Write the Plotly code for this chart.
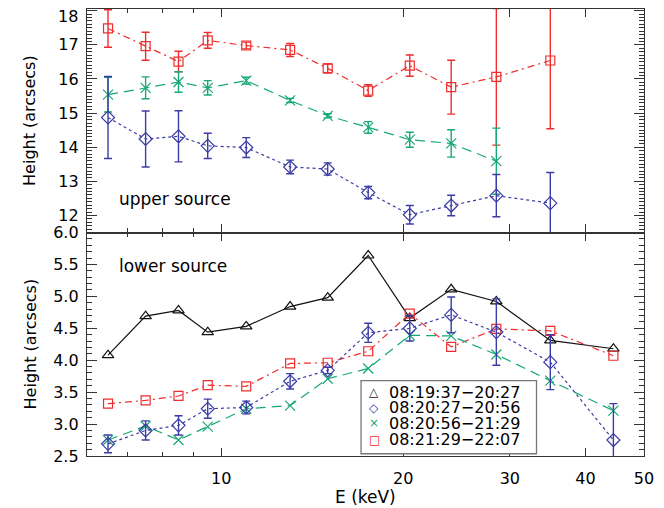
import plotly.graph_objects as go

# energy bin centres (keV)
energy = [6.5, 7.5, 8.5, 9.5, 11, 13, 15, 17.5, 20.5, 24, 28.5, 35, 44.5]

intervals = ['08:19:37\u221220:27', '08:20:27\u221220:56',
             '08:20:56\u221221:29', '08:21:29\u221222:07']

# upper source heights (arcsecs)
up_red = [17.48, 16.96, 16.51, 17.13, 16.98, 16.85, 16.31, 15.66, 16.39, 15.76, 16.06, 16.54]
up_red_err = [0.55, 0.41, 0.30, 0.23, 0.10, 0.19, 0.13, 0.17, 0.31, 0.79, 2.0, 2.0]
up_green = [15.54, 15.74, 15.91, 15.74, 15.95, 15.37, 14.92, 14.58, 14.22, 14.11, 13.59]
up_green_err = [0.51, 0.32, 0.30, 0.21, 0.10, 0.06, 0.06, 0.17, 0.22, 0.40, 0.97]
up_blue = [14.87, 14.24, 14.32, 14.04, 13.99, 13.42, 13.36, 12.67, 12.02, 12.29, 12.58, 12.36]
up_blue_err = [1.2, 0.82, 0.75, 0.37, 0.29, 0.20, 0.18, 0.18, 0.27, 0.30, 0.62, 0.90]

# lower source heights (arcsecs)
lo_black = [4.08, 4.69, 4.78, 4.44, 4.53, 4.84, 4.98, 5.64, 4.66, 5.11, 4.92, 4.31, 4.18]
lo_blue = [2.69, 2.90, 2.98, 3.24, 3.26, 3.67, 3.84, 4.43, 4.50, 4.71, 4.44, 3.97, 2.75]
lo_blue_err = [0.14, 0.15, 0.15, 0.15, 0.10, 0.12, 0.05, 0.15, 0.20, 0.28, 0.52, 0.43, 0.57]
lo_green = [2.75, 2.97, 2.75, 2.96, 3.24, 3.29, 3.71, 3.87, 4.39, 4.38, 4.09, 3.68, 3.21]
lo_red = [3.32, 3.37, 3.44, 3.61, 3.59, 3.95, 3.96, 4.14, 4.73, 4.21, 4.49, 4.46, 4.07]

up_ticks = [12, 13, 14, 15, 16, 17, 18]
lo_ticks = [2.5, 3.0, 3.5, 4.0, 4.5, 5.0, 5.5, 6.0]
e_ticks = [10, 20, 30, 40, 50]
e_minor = [6, 7, 8, 9]

BLACK = '#111111'
BLUE = '#3c3ca6'
GREEN = '#17a874'
RED = '#f02c2c'
FONT = 'DejaVu Sans'

styles = {
    'black': dict(color=BLACK, dash='solid', symbol='triangle-up-open', size=10),
    'blue': dict(color=BLUE, dash='dot', symbol='diamond-open', size=10),
    'green': dict(color=GREEN, dash='10px,6px', symbol='x-thin-open', size=10),
    'red': dict(color=RED, dash='7px,4px,2px,4px', symbol='square-open', size=9),
}


def series(y, key, xa, ya, err=None):
    s = styles[key]
    tr = go.Scatter(
        x=energy[:len(y)], y=y, mode='lines+markers', xaxis=xa, yaxis=ya,
        line=dict(color=s['color'], dash=s['dash'], width=1.2),
        marker=dict(symbol=s['symbol'], size=s['size'], color=s['color'],
                    line=dict(color=s['color'], width=1.2)),
        showlegend=False, hoverinfo='x+y',
    )
    if err is not None:
        tr.error_y = dict(type='data', array=err, color=s['color'], thickness=1.4, width=4)
    return tr


fig = go.Figure()
# upper panel
fig.add_trace(series(up_red, 'red', 'x2', 'y2', up_red_err))
fig.add_trace(series(up_green, 'green', 'x2', 'y2', up_green_err))
fig.add_trace(series(up_blue, 'blue', 'x2', 'y2', up_blue_err))
# lower panel
fig.add_trace(series(lo_black, 'black', 'x', 'y'))
fig.add_trace(series(lo_red, 'red', 'x', 'y'))
fig.add_trace(series(lo_green, 'green', 'x', 'y'))
fig.add_trace(series(lo_blue, 'blue', 'x', 'y', lo_blue_err))

axis_common = dict(showline=True, linecolor='#333333', linewidth=1.4, mirror='ticks',
                   ticks='inside', tickcolor='#333333', showgrid=False, zeroline=False,
                   automargin=False, tickfont=dict(family=FONT, size=16, color='black'))
x_common = dict(axis_common, type='log', range=[0.77815, 1.69897],
                tickmode='array', tickvals=e_ticks, ticklen=8, tickwidth=1.3,
                ticklabelstandoff=8,
                minor=dict(tickmode='array', tickvals=e_minor, ticks='inside',
                           ticklen=4, tickcolor='#333333', tickwidth=1.3, showgrid=False))
y_minor = dict(dtick=0.1, ticks='inside', ticklen=5, tickcolor='#333333', showgrid=False)

# the page adds an 8px body margin, so the figure is 8px smaller and margins shifted
fig.update_layout(
    width=656, height=500,
    margin=dict(l=79, r=19.5, t=1.3, b=52),
    paper_bgcolor='white', plot_bgcolor='white',
    font=dict(family=FONT, size=16, color='black'),
    xaxis=dict(x_common, anchor='y', domain=[0, 1]),
    xaxis2=dict(x_common, anchor='y2', matches='x', showticklabels=False),
    yaxis=dict(axis_common, domain=[0, 0.5], range=[2.5, 6.0], anchor='x',
               tickmode='array', tickvals=lo_ticks,
               tickformat='.1f', ticklen=10, tickwidth=1.3, ticklabelstandoff=4,
               minor=y_minor),
    yaxis2=dict(axis_common, domain=[0.5, 1], range=[11.5, 18.05], anchor='x2',
                tickmode='array', tickvals=up_ticks,
                ticktext=[str(t) for t in up_ticks[:-1]] + [''],
                ticklen=10, tickwidth=1.3, ticklabelstandoff=4, minor=y_minor),
)

# top label sits just inside the frame, as in the original
fig.add_annotation(text=str(up_ticks[-1]), xref='paper', yref='paper', x=-0.012, y=0.984,
                   xanchor='right', yanchor='middle', showarrow=False,
                   font=dict(family=FONT, size=16, color='black'))

# axis titles
for yc in (0.25, 0.75):
    fig.add_annotation(text='Height (arcsecs)', xref='paper', yref='paper', x=-0.102, y=yc,
                       textangle=-90, xanchor='center', yanchor='middle', showarrow=False,
                       font=dict(family=FONT, size=16, color='black'))
fig.add_annotation(text='E (keV)', xref='paper', yref='paper', x=0.5, y=-0.092,
                   xanchor='center', yanchor='middle', showarrow=False,
                   font=dict(family=FONT, size=17, color='black'))

fig.add_annotation(text='upper source', xref='x2 domain', yref='y2 domain', x=0.054, y=0.15,
                   xanchor='left', yanchor='middle', showarrow=False,
                   font=dict(family=FONT, size=17, color='black'))
fig.add_annotation(text='lower source', xref='x domain', yref='y domain', x=0.054, y=0.85,
                   xanchor='left', yanchor='middle', showarrow=False,
                   font=dict(family=FONT, size=17, color='black'))

# legend box drawn by hand so the rows sit as tightly as in the original
fig.add_shape(type='rect', xref='x domain', yref='y domain', x0=0.492, x1=0.807,
              y0=0.01, y1=0.337, line=dict(color='#777777', width=1.3), fillcolor='white')
legend_syms = ['\u25b3', '\u25c7', '\u00d7', '\u25a1']
legend_cols = [BLACK, BLUE, GREEN, RED]
row_y = [0.285, 0.216, 0.146, 0.072]
for lab, sym, col, yy in zip(intervals, legend_syms, legend_cols, row_y):
    fig.add_annotation(text=sym, xref='x domain', yref='y domain', x=0.516, y=yy,
                       xanchor='center', yanchor='middle', showarrow=False,
                       font=dict(family=FONT, size=12, color=col))
    fig.add_annotation(text=lab, xref='x domain', yref='y domain', x=0.538, y=yy,
                       xanchor='left', yanchor='middle', showarrow=False,
                       font=dict(family=FONT, size=16, color='black'))

fig.write_html('out.html')
